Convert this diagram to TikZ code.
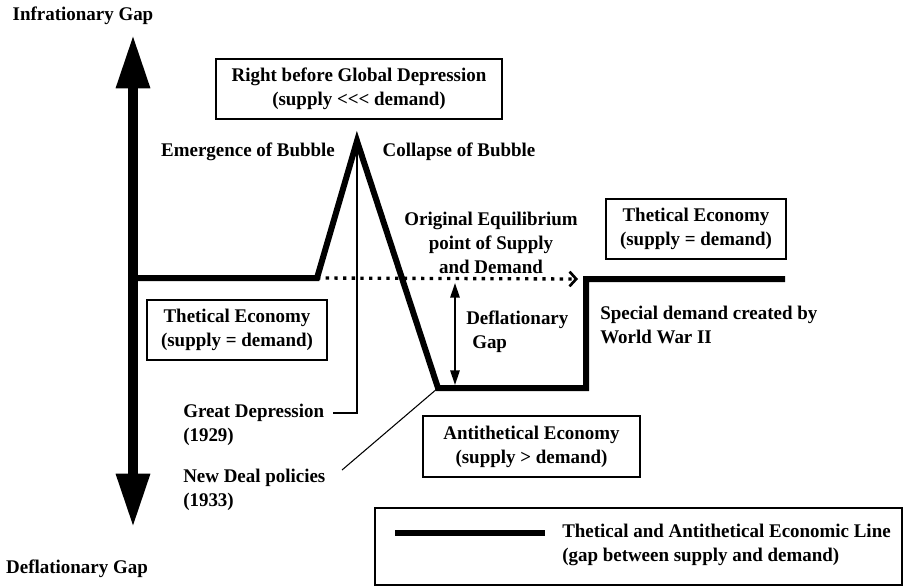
\documentclass[tikz,border=0pt]{standalone}
\usepackage{fontspec}
\setmainfont{Liberation Serif}[FakeStretch=0.98]
\usetikzlibrary{arrows.meta, positioning}

\begin{document}
\begin{tikzpicture}[x=0.75pt, y=-0.75pt,
    font=\bfseries\fontsize{14.5}{18}\selectfont,
    axis/.style={line width=7pt, {Triangle[length=40pt,width=24pt]}-{Triangle[length=40pt,width=24pt]}},
    econ/.style={line width=4.5pt, line join=miter, miter limit=20},
    infobox/.style={draw, line width=0.8pt, align=center, inner sep=0pt},
    lead/.style={line width=0.8pt},
    lbl/.style={align=left, inner sep=0pt, anchor=west}]

    \useasboundingbox (0,0) rectangle (905,587);

    % vertical gap axis
    \coordinate (top) at (133,35);
    \coordinate (bot) at (133,527);
    \draw[axis] (bot) -- (top);
    \node (infl) at (83,16) {Infrationary Gap};
    \node (defl) at (77,569) {Deflationary Gap};

    % economic line
    \coordinate (e0) at (133,278);
    \coordinate (e1) at (317,278);
    \coordinate (peak) at (357,141);
    \coordinate (e3) at (438,388);
    \coordinate (e4) at (586,388);
    \coordinate (e5) at (586,279);
    \coordinate (e6) at (785,279);
    \coordinate (eq) at (578,279);
    \draw[line width=2.5pt, dash pattern=on 2.5pt off 4pt, -{Straight Barb[length=5pt,width=11pt,line width=2pt]}] (e1) -- (eq);
    \draw[econ] (e0) -- (e1) -- (peak) -- (e3) -- (e4) -- (e5) -- (e6);

    % deflationary gap
    \coordinate (dgtop) at (455,283);
    \coordinate (dgbot) at (455,385);
    \draw[line width=1.5pt, {Triangle[length=11pt,width=7pt]}-{Triangle[length=11pt,width=7pt]}] (dgtop) -- (dgbot);
    \node[lbl] (dg) at (466,332) {Deflationary\\\hspace*{4.5pt}Gap};

    % boxes
    \node[infobox, minimum width=214.5pt, minimum height=45pt] (rbgd) at (359,89)
        {Right before Global Depression\\(supply {<}{<}{<} demand)};
    \node[infobox, minimum width=135pt, minimum height=45pt] (thl) at (237,330)
        {Thetical Economy\\(supply = demand)};
    \node[infobox, minimum width=135pt, minimum height=45pt] (thr) at (696,229)
        {Thetical Economy\\(supply = demand)};
    \node[infobox, minimum width=162.75pt, minimum height=45.75pt] (anti) at (531.5,446.5)
        {Antithetical Economy\\(supply > demand)};

    % labels
    \node (emer) at (248,152) {Emergence of Bubble};
    \node (coll) at (459,152) {Collapse of Bubble};
    \node[align=center] (orig) at (491,243) {Original Equilibrium\\point of Supply\\and Demand};
    \node[lbl] (ww) at (600,325) {Special demand created by\\World War II};
    \node[lbl] (gd) at (183,425) {Great Depression\\(1929)};
    \node[lbl] (nd) at (183,490) {New Deal policies\\(1933)};

    % leaders
    \coordinate (gdlead) at (333,413);
    \coordinate (gdcorner) at (357,413);
    \draw[lead] (gdlead) -- (gdcorner) -- (peak);
    \coordinate (ndlead) at (342,470);
    \draw[lead] (ndlead) -- (e3);

    % legend
    \node[draw, line width=0.8pt, minimum width=395.25pt, minimum height=57.75pt] (legend) at (638.5,546.5) {};
    \coordinate (lg0) at (395,533);
    \coordinate (lg1) at (545,533);
    \draw[econ] (lg0) -- (lg1);
    \node[lbl] (lgtext) at (562,545) {Thetical and Antithetical Economic Line\\(gap between supply and demand)};
\end{tikzpicture}
\end{document}
